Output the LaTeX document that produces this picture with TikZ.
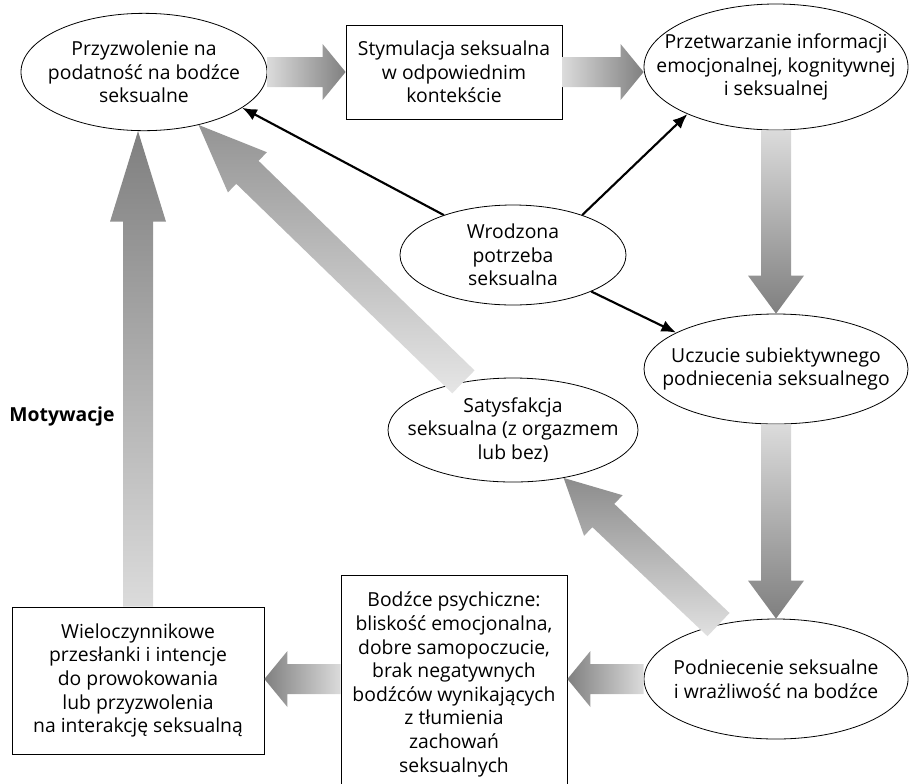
\documentclass[tikz,border=0pt]{standalone}
\usepackage{fontspec}
\setmainfont{Open Sans}
\usetikzlibrary{shapes,calc,arrows.meta,positioning}

% wide shaded arrow: [options]{tail}{tip}{head length}{half shaft}
\newcommand{\fatarrow}[5][]{%
  \path (#2) -- (#3) coordinate[pos=0] (ft) coordinate[pos=1] (fp);
  \path let \p1=($(fp)-(ft)$) in
    \pgfextra{\pgfmathsetmacro\fangle{atan2(\y1,\x1)-90}\global\let\fangle\fangle};
  \coordinate (fb) at ($(fp)!#4!(ft)$);
  \shade[fat,shading angle=\fangle,#1] ($(ft)!#5!90:(fp)$) -- ($(fb)!#5!90:(fp)$)
    -- ($(fb)!21pt!90:(fp)$) -- (fp) -- ($(fb)!21pt!-90:(fp)$)
    -- ($(fb)!#5!-90:(fp)$) -- ($(ft)!#5!-90:(fp)$) -- cycle;
}

\begin{document}
\begin{tikzpicture}[x=0.75pt,y=-0.75pt,>={Latex[length=11pt,width=9pt]},
    font=\fontsize{14.5}{17.7}\selectfont]
  \tikzstyle{oval}=[ellipse,draw,line width=0.6pt,inner sep=0pt]
  \tikzstyle{box}=[rectangle,draw,line width=0.6pt,align=center,inner sep=0pt]
  \tikzstyle{txt}=[align=center,inner sep=0pt]
  \tikzstyle{link}=[->,line width=1.6pt]
  \tikzstyle{fat}=[top color=black!50,bottom color=black!14]
  \useasboundingbox (0,0) rectangle (909,783);
  \clip (0,0) rectangle (909,783);

  % top row
  \node[oval,minimum width=184.5pt,minimum height=88pt,
    label={[txt]center:Przyzwolenie na\\podatność na bodźce\\seksualne}] (e1) at (144,72) {};
  \node[box,minimum width=162pt,minimum height=70.5pt,right of=e1,node distance=232.5pt]
    (stim) {Stymulacja seksualna\\w odpowiednim\\kontekście};
  \node[oval,minimum width=198pt,minimum height=94.5pt,right of=stim,node distance=241.5pt,yshift=3.75pt,
    label={[txt]center:Przetwarzanie informacji\\emocjonalnej, kognitywnej\\i seksualnej}] (e2) {};

  % right column
  \node[oval,minimum width=198pt,minimum height=82.5pt,below of=e2,node distance=226.5pt,
    label={[txt]center:Uczucie subiektywnego\\podniecenia seksualnego}] (e3) {};
  \node[oval,minimum width=198pt,minimum height=90pt,below of=e3,node distance=232.5pt,
    label={[txt]center:Podniecenie seksualne\\i wrażliwość na bodźce}] (e4) {};

  % middle
  \node[oval,minimum width=169.5pt,minimum height=75pt,
    label={[txt]center:Wrodzona\\potrzeba\\seksualna}] (e6) at (513,255) {};
  \node[oval,minimum width=187.5pt,minimum height=78pt,below of=e6,node distance=131.25pt,
    label={[txt]center:Satysfakcja\\seksualna (z orgazmem\\lub bez)}] (e5) {};

  % bottom row
  \node[box,minimum width=169.5pt,minimum height=164.25pt,left of=e4,node distance=241.5pt,yshift=-4.1pt]
    (b2) {Bodźce psychiczne:\\bliskość emocjonalna,\\dobre samopoczucie,\\brak negatywnych\\bodźców wynikających\\z tłumienia\\zachowań\\seksualnych};
  \node[box,minimum width=189pt,minimum height=110.25pt,left of=b2,node distance=237pt,yshift=3pt]
    (b3) {Wieloczynnikowe\\przesłanki i intencje\\do prowokowania\\lub przyzwolenia\\na interakcję seksualną};
  \node[font=\fontsize{14.5}{17.7}\selectfont\bfseries] (mot) at (62,416) {Motywacje};

  % wide arrows
  \fatarrow{e1}{stim}{17.25pt}{11.25pt}
  \fatarrow{stim.east}{e2.west |- stim.east}{17.25pt}{11.25pt}
  \fatarrow{e2.south}{e3.north}{28.5pt}{11.25pt}
  \fatarrow{e3.south}{e4.north}{28.5pt}{11.25pt}
  \fatarrow{e4.west}{b2.east |- e4.west}{17.25pt}{11.25pt}
  \fatarrow{b2.west |- e4.west}{b3.east |- e4.west}{17.25pt}{11.25pt}
  \fatarrow{b3.north}{b3 |- e1.south}{68pt}{11.25pt}
  \fatarrow[top color=black!42,bottom color=black!10]{e5}{e1}{51pt}{12pt}
  \fatarrow[top color=black!45,bottom color=black!12]{e4}{e5}{41pt}{12pt}

  % thin arrows
  \draw[link] (e6.150) -- (e1.-20);
  \draw[link] (e6.30) -- (e2.208);
  \draw[link] (e6.-25) -- (e3.160);
\end{tikzpicture}
\end{document}
